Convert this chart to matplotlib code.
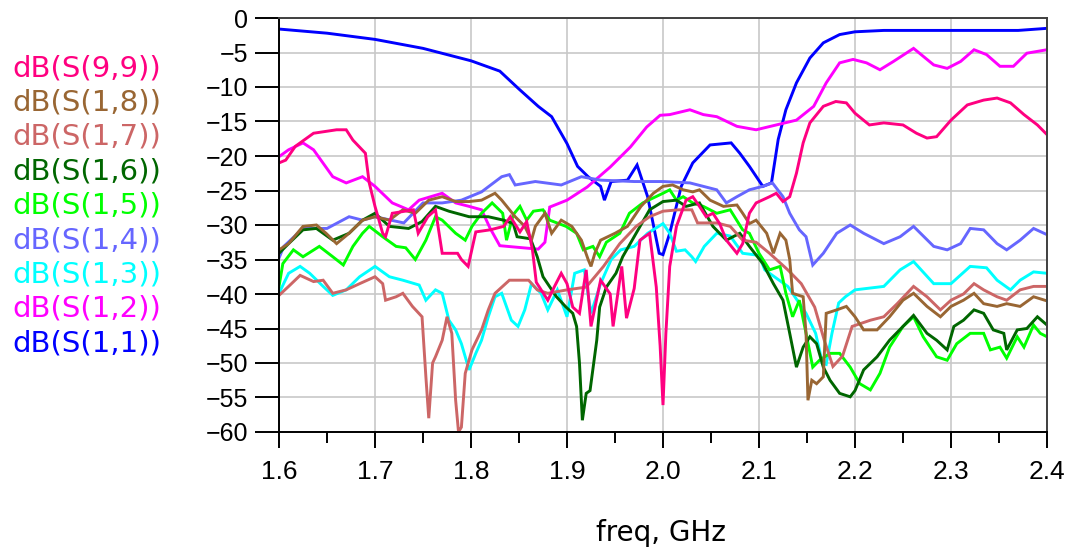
import matplotlib.pyplot as plt
from matplotlib.ticker import MultipleLocator

plt.rcParams["font.family"] = ["Liberation Sans", "DejaVu Sans"]

# S(1,1)
f11 = [1.60, 1.65, 1.70, 1.75, 1.80, 1.83, 1.85, 1.87, 1.884, 1.90, 1.911, 1.922, 1.935, 1.939,
       1.946, 1.963, 1.973, 1.984, 1.996, 2.000, 2.007, 2.019, 2.031, 2.049, 2.071, 2.08, 2.09,
       2.104, 2.113, 2.12, 2.128, 2.139, 2.153, 2.167, 2.184, 2.20, 2.23, 2.30, 2.37, 2.40]
s11 = [-1.6, -2.2, -3.1, -4.4, -6.2, -7.7, -10.3, -12.8, -14.3, -18.2, -21.5, -23, -24.4, -26.4,
       -23.7, -23.5, -21.3, -25.9, -34.1, -34.3, -31.2, -24.4, -21, -18.4, -18.1, -19.6, -21.5,
       -24.4, -23.9, -17.6, -13.3, -9.4, -5.8, -3.6, -2.4, -2.0, -1.8, -1.8, -1.8, -1.5]

# S(1,2)
f12 = [1.60, 1.61, 1.625, 1.636, 1.656, 1.67, 1.687, 1.70, 1.718, 1.735, 1.746, 1.77, 1.784,
       1.798, 1.811, 1.82, 1.83, 1.87, 1.877, 1.882, 1.90, 1.921, 1.945, 1.966, 1.983, 1.997,
       2.007, 2.028, 2.042, 2.056, 2.077, 2.097, 2.118, 2.139, 2.157, 2.17, 2.184, 2.198, 2.212,
       2.226, 2.24, 2.261, 2.282, 2.296, 2.31, 2.324, 2.337, 2.351, 2.365, 2.379, 2.40]
s12 = [-20.1, -19.1, -18.1, -19.1, -23, -23.9, -23, -24.4, -26.8, -27.8, -26.4, -25.4, -26.8,
       -27.3, -27.8, -30.5, -33, -33.5, -32.5, -27.4, -26.4, -24.5, -21.6, -18.7, -15.8, -14.1,
       -14, -13.3, -14, -14.3, -15.7, -16.2, -15.5, -14.8, -12.8, -9.4, -6.5, -6, -6.5,
       -7.5, -6.3, -4.4, -6.8, -7.3, -6.3, -4.6, -5.3, -7, -7, -5.1, -4.6]

# S(1,3)
f13 = [1.600, 1.610, 1.622, 1.632, 1.646, 1.656, 1.670, 1.684, 1.700, 1.715, 1.729, 1.746, 1.753,
       1.763, 1.770, 1.777, 1.784, 1.790, 1.798, 1.805, 1.811, 1.818, 1.825, 1.832, 1.842, 1.849,
       1.856, 1.863, 1.873, 1.880, 1.890, 1.900, 1.908, 1.918, 1.925, 1.935, 1.946, 1.956, 1.970,
       1.984, 2.000, 2.007, 2.014, 2.023, 2.030, 2.034, 2.043, 2.056, 2.070, 2.083, 2.100, 2.106,
       2.130, 2.149, 2.159, 2.166, 2.170, 2.176, 2.183, 2.190, 2.200, 2.230, 2.247, 2.261, 2.282,
       2.300, 2.320, 2.337, 2.348, 2.362, 2.372, 2.386, 2.400]
s13 = [-39.9, -37, -36, -37, -38.9, -40.2, -39.4, -37.5, -36, -37.5, -38, -38.7, -40.9,
       -39.4, -39.9, -43.8, -45.2, -47.2, -51, -48.6, -46.7, -43.3, -40.4, -39.9, -43.8, -44.7,
       -42.3, -38.5, -39.9, -42.3, -39.4, -43.3, -37, -36.5, -42.8, -38.5, -35, -33.6, -33.1,
       -31.2, -29.8, -31.2, -33.8, -33.6, -34.6, -35.3, -33.1, -31.2, -31.6, -34.1, -34.4, -36.5,
       -38.9, -42.8, -45.7, -50, -50.2, -45.7, -41.3, -40.4, -39.4, -38.9, -36.5, -35.3, -38.5,
       -38.5, -36, -36.2, -38, -39.4, -38, -36.8, -37]

# S(1,4)
f14 = [1.600, 1.605, 1.625, 1.650, 1.673, 1.687, 1.700, 1.730, 1.750, 1.770, 1.790, 1.811, 1.832,
       1.840, 1.846, 1.867, 1.894, 1.915, 1.935, 1.970, 2.000, 2.028, 2.056, 2.066, 2.077, 2.090,
       2.104, 2.114, 2.125, 2.132, 2.142, 2.149, 2.156, 2.167, 2.181, 2.195, 2.209, 2.230, 2.247,
       2.261, 2.282, 2.296, 2.310, 2.320, 2.334, 2.348, 2.358, 2.372, 2.386, 2.400]
s14 = [-34.8, -33.1, -30.5, -30.5, -28.8, -29.3, -28.8, -29.7, -26.8, -26.8, -26.4, -25.2, -23,
       -22.7, -24.2, -23.7, -24.2, -23, -23.5, -23.7, -23.7, -23.9, -24.9, -26.8, -25.9, -24.9,
       -24.4, -23.9, -25.9, -28.3, -30.7, -31.7, -35.8, -34.1, -31.2, -30, -31.2, -32.7, -31.7,
       -30.2, -33.1, -33.6, -32.7, -30.5, -30.7, -32.7, -33.6, -32.2, -30.5, -31.4]

# S(1,5)
f15 = [1.600, 1.604, 1.615, 1.625, 1.642, 1.656, 1.667, 1.677, 1.687, 1.694, 1.708, 1.722, 1.732,
       1.742, 1.753, 1.763, 1.770, 1.784, 1.794, 1.801, 1.811, 1.822, 1.833, 1.837, 1.844, 1.851,
       1.858, 1.865, 1.875, 1.882, 1.899, 1.910, 1.917, 1.927, 1.934, 1.941, 1.955, 1.965, 1.979,
       2.000, 2.007, 2.014, 2.021, 2.031, 2.042, 2.056, 2.070, 2.083, 2.090, 2.100, 2.111, 2.122,
       2.128, 2.135, 2.142, 2.149, 2.156, 2.163, 2.174, 2.184, 2.195, 2.205, 2.216, 2.226, 2.236,
       2.250, 2.261, 2.271, 2.285, 2.296, 2.306, 2.320, 2.334, 2.341, 2.351, 2.358, 2.369, 2.376,
       2.386, 2.393, 2.400]
s15 = [-38.9, -35.6, -33.6, -34.6, -33.1, -34.6, -35.8, -33.1, -31.2, -30.2, -31.7, -33.1, -33.3,
       -35, -32.2, -28.8, -29.3, -31.2, -32.2, -30.2, -28.3, -26.8, -28.3, -32.2, -28.5, -27.3,
       -29.3, -28, -27.8, -29.3, -30.2, -31.2, -33.6, -33.1, -34.6, -32.5, -31.2, -28.3, -26.8,
       -25.4, -24.9, -26.4, -25.9, -26.8, -27.3, -28.3, -27.8, -30.7, -31.2, -34.1, -36.5, -36,
       -39.9, -43.3, -40.9, -45.7, -50.6, -49.6, -48.6, -48.6, -50.6, -53, -53.9, -51.5, -47.7,
       -44.7, -43.3, -46.2, -49.1, -49.6, -47.2, -45.7, -45.7, -48.1, -47.7, -49.3, -46.2, -47.7,
       -44.5, -45.7, -46.2]

# S(1,6)
f16 = [1.600, 1.610, 1.625, 1.639, 1.656, 1.673, 1.687, 1.700, 1.715, 1.735, 1.749, 1.763, 1.777,
       1.798, 1.818, 1.834, 1.844, 1.848, 1.862, 1.869, 1.875, 1.889, 1.899, 1.906, 1.910, 1.913,
       1.916, 1.920, 1.924, 1.931, 1.934, 1.941, 1.951, 1.958, 1.972, 1.986, 2.000, 2.014, 2.024,
       2.038, 2.052, 2.066, 2.080, 2.090, 2.104, 2.115, 2.125, 2.132, 2.139, 2.146, 2.153, 2.160,
       2.167, 2.174, 2.184, 2.195, 2.200, 2.209, 2.223, 2.236, 2.250, 2.261, 2.275, 2.285, 2.296,
       2.303, 2.313, 2.324, 2.334, 2.344, 2.355, 2.358, 2.369, 2.379, 2.390, 2.400]
s16 = [-34.1, -32.7, -30.7, -30.5, -32.2, -31.2, -29.3, -28.3, -30.2, -30.5, -29.5, -27.3, -28,
       -28.8, -28.8, -29.3, -29.8, -31.7, -32, -34.6, -37.5, -40.4, -41.9, -42.8, -44.7, -50,
       -58.3, -54.4, -54, -46.7, -41.9, -39, -37, -34.6, -31.2, -27.8, -26.6, -26.4, -27.3,
       -26.8, -30.2, -32.2, -31.2, -33.1, -35.6, -38.5, -40.9, -45.7, -50.6, -47.7, -46.2, -47.2,
       -50.6, -52.5, -54.4, -54.9, -54, -51, -49.1, -46.7, -44.7, -43.1, -45.7, -46.7, -48.1,
       -44.7, -43.8, -42.3, -42.8, -45.2, -45.7, -48.1, -45.2, -45, -43.3, -44.5]

# S(1,7)
f17 = [1.600, 1.610, 1.622, 1.636, 1.646, 1.656, 1.670, 1.684, 1.700, 1.708, 1.711, 1.722, 1.729,
       1.739, 1.749, 1.753, 1.756, 1.760, 1.763, 1.770, 1.775, 1.780, 1.784, 1.787, 1.790, 1.794,
       1.801, 1.811, 1.818, 1.825, 1.840, 1.860, 1.869, 1.880, 1.900, 1.920, 1.938, 1.955, 1.972,
       1.986, 2.000, 2.016, 2.030, 2.036, 2.056, 2.070, 2.083, 2.097, 2.111, 2.130, 2.144, 2.158,
       2.168, 2.177, 2.187, 2.197, 2.216, 2.230, 2.244, 2.261, 2.275, 2.289, 2.300, 2.313, 2.324,
       2.334, 2.348, 2.358, 2.372, 2.386, 2.400]
s17 = [-40.2, -38.9, -37.3, -38.2, -38, -39.9, -39.4, -38.5, -37.5, -38.5, -40.9, -40.4, -39.9,
       -41.8, -43.3, -52, -58, -50, -49.1, -46.7, -43.3, -45.7, -55.4, -60, -59.3, -51.5,
       -48.1, -45.2, -42.3, -39.9, -38, -38, -39.4, -39.9, -39.4, -39, -36, -32.7, -30.2,
       -28.8, -28, -27.8, -27.8, -29.7, -29.7, -30.2, -32.2, -32.5, -34.1, -36.5, -38.5, -41.9,
       -46.7, -50.5, -49, -44.7, -43.8, -43.3, -41.4, -38.9, -40.4, -42.3, -40.9, -40, -38.5,
       -39.4, -40.4, -40.9, -39.4, -38.9, -38.9]

# S(1,8)
f18 = [1.600, 1.610, 1.625, 1.639, 1.649, 1.660, 1.673, 1.687, 1.700, 1.715, 1.729, 1.742, 1.756,
       1.770, 1.784, 1.798, 1.811, 1.825, 1.832, 1.846, 1.856, 1.863, 1.867, 1.877, 1.884, 1.894,
       1.905, 1.915, 1.922, 1.925, 1.929, 1.935, 1.950, 1.963, 1.977, 1.990, 2.000, 2.010, 2.021,
       2.031, 2.038, 2.049, 2.063, 2.077, 2.083, 2.090, 2.097, 2.108, 2.115, 2.122, 2.128, 2.132,
       2.135, 2.146, 2.149, 2.151, 2.155, 2.160, 2.167, 2.170, 2.181, 2.191, 2.200, 2.209, 2.223,
       2.236, 2.250, 2.261, 2.275, 2.289, 2.300, 2.313, 2.324, 2.334, 2.348, 2.358, 2.372, 2.386,
       2.400]
s18 = [-33.6, -32.7, -30.2, -30, -31.2, -32.7, -31.2, -29.3, -28.8, -29.3, -27.8, -28.3, -26.4,
       -25.9, -26.6, -26.6, -26.4, -25.4, -26.4, -28.8, -30.2, -32.2, -30.2, -28.3, -31.2, -29.3,
       -30.2, -32.2, -35, -36, -34.1, -32.2, -31.2, -30.2, -27.3, -25.4, -24.4, -24.2, -24.9,
       -25.2, -24.9, -26.4, -27.3, -27.1, -28.3, -29.8, -29.3, -31.2, -34.1, -31.2, -32.2, -35,
       -39.9, -40.4, -45.7, -55.4, -52.5, -53, -52, -42.8, -42.3, -41.8, -43.3, -45.2, -45.2,
       -43.3, -40.9, -39.9, -41.8, -43.3, -41.8, -40.9, -39.9, -41.4, -41.8, -41.4, -41.8, -40.4,
       -41]

# S(9,9)
f99 = [1.600, 1.607, 1.617, 1.636, 1.660, 1.670, 1.677, 1.690, 1.694, 1.700, 1.708, 1.711, 1.718,
       1.740, 1.745, 1.755, 1.763, 1.770, 1.786, 1.790, 1.797, 1.805, 1.820, 1.834, 1.841, 1.851,
       1.858, 1.864, 1.868, 1.880, 1.887, 1.894, 1.900, 1.906, 1.913, 1.920, 1.925, 1.935, 1.945,
       1.948, 1.957, 1.962, 1.970, 1.976, 1.986, 1.993, 1.997, 2.000, 2.003, 2.007, 2.014, 2.024,
       2.031, 2.038, 2.045, 2.052, 2.059, 2.066, 2.077, 2.083, 2.090, 2.097, 2.111, 2.118, 2.125,
       2.132, 2.139, 2.146, 2.153, 2.167, 2.180, 2.191, 2.200, 2.215, 2.230, 2.250, 2.264, 2.275,
       2.285, 2.300, 2.317, 2.334, 2.348, 2.362, 2.376, 2.390, 2.400]
s99 = [-21, -20.6, -18.6, -16.7, -16.2, -16.2, -17.7, -19.6, -23.9, -27.3, -31.2, -31.7, -28.3,
       -27.8, -31.2, -28.8, -27.8, -34.1, -34.1, -35, -36, -31, -30.7, -30.2, -28.8, -31,
       -29.5, -33.6, -38.3, -40.9, -38.9, -37, -38.5, -41.9, -42.8, -36.5, -44.7, -38, -40,
       -44.7, -36, -43.5, -39.2, -32.2, -31.2, -39, -47.5, -56.1, -45.7, -36, -30.2, -26.4,
       -25.9, -27.3, -28.8, -28.3, -29.8, -32.2, -34.1, -32.7, -28.3, -26.8, -25.9, -25.4, -26.6,
       -25.9, -22.5, -18.1, -15.2, -12.8, -12.1, -12.3, -13.8, -15.5, -15.2, -15.5, -16.7, -17.4,
       -17.2, -14.8, -12.6, -11.9, -11.6, -12.3, -14, -15.5, -16.9]

labels = ["dB(S(9,9))", "dB(S(1,8))", "dB(S(1,7))", "dB(S(1,6))", "dB(S(1,5))",
          "dB(S(1,4))", "dB(S(1,3))", "dB(S(1,2))", "dB(S(1,1))"]
colors = ["#FF0080", "#996633", "#CC6666", "#006600", "#00FF00",
          "#6666FF", "#00FFFF", "#FF00FF", "#0000FF"]
traces = [(f99, s99), (f18, s18), (f17, s17), (f16, s16), (f15, s15),
          (f14, s14), (f13, s13), (f12, s12), (f11, s11)]
xticks = [1.6, 1.7, 1.8, 1.9, 2.0, 2.1, 2.2, 2.3, 2.4]

fig = plt.figure(figsize=(10.67, 5.56), dpi=100)
ax = fig.add_axes([279 / 1067, 1 - 432 / 556, 768 / 1067, 414 / 556])

# draw in reverse so S(1,1) ends up on top
for (f, s), c in list(zip(traces, colors))[::-1]:
    ax.plot(f, s, color=c, lw=2.1, solid_joinstyle="miter")

ax.set_xlim(1.6, 2.4)
ax.set_ylim(-60, 0)
ax.xaxis.set_minor_locator(MultipleLocator(0.05))
ax.yaxis.set_major_locator(MultipleLocator(5))
ax.set_xticks(xticks)
ax.set_xticklabels(["%.1f" % v for v in xticks])
ax.grid(True, which="major", color="#C8C8C8", lw=1.2)
ax.set_axisbelow(True)

ax.tick_params(axis="y", length=17, width=1.4, pad=5, labelsize=18, direction="out")
ax.tick_params(axis="x", which="major", length=11.5, width=1.4, pad=9, labelsize=19,
               direction="out")
ax.tick_params(axis="x", which="minor", length=8, width=1.4, direction="out")
for sp in ax.spines.values():
    sp.set_linewidth(1.4)
ax.spines["top"].set_color("#404040")
ax.spines["right"].set_color("#404040")

# x axis title, wide spaced like the original
fig.text(661 / 1067, 1 - 541 / 556, "freq, GHz", fontsize=20, ha="center", va="baseline",
         family="DejaVu Sans")

# legend as coloured text on the left
for i, (lab, c) in enumerate(zip(labels, colors)):
    y = 68 + i * 34.4
    fig.text(12 / 1067, 1 - y / 556, lab, color=c, fontsize=21, va="center", ha="left",
             family="DejaVu Sans")

fig.savefig("out.png", dpi=100)
